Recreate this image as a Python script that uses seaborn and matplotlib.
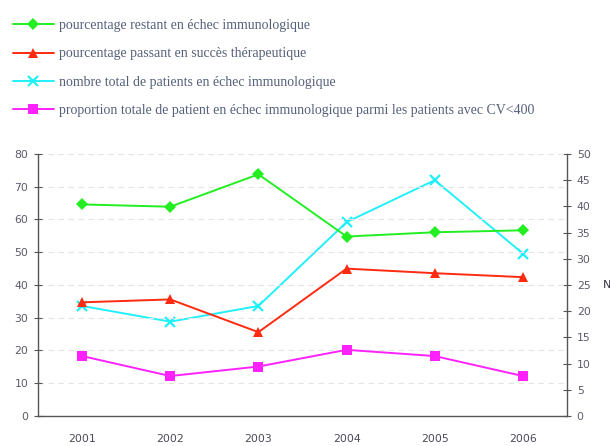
import matplotlib.pyplot as plt
import matplotlib.ticker as mticker
import seaborn as sns
import pandas as pd

years = ["2001", "2002", "2003", "2004", "2005", "2006"]
pct_restant = [64.6, 63.9, 73.8, 54.8, 56.1, 56.7]
pct_succes = [34.7, 35.6, 25.6, 45.0, 43.6, 42.4]
nb_patients = [21, 18, 21, 37, 45, 31]
prop_totale = [18.3, 12.2, 15.1, 20.2, 18.3, 12.2]

labels = [
    "pourcentage restant en échec immunologique",
    "pourcentage passant en succès thérapeutique",
    "nombre total de patients en échec immunologique",
    "proportion totale de patient en échec immunologique parmi les patients avec CV<400",
]

sns.set_style("white")
plt.rcParams["font.family"] = ["DejaVu Sans"]

fig = plt.figure(figsize=(6.1, 4.46), dpi=100)
ax = fig.add_axes([0.0623, 0.0673, 0.8672, 0.5874])
ax2 = ax.twinx()
# percentages drawn above the count series
ax.set_zorder(ax2.get_zorder() + 1)
ax.patch.set_visible(False)

df = pd.DataFrame({"annee": years, "restant": pct_restant, "succes": pct_succes,
                   "nb": nb_patients, "prop": prop_totale})
x = list(range(len(years)))

sns.lineplot(x=x, y=df["restant"], ax=ax, color="#22ee22", marker="D",
             markersize=6, markeredgewidth=0, linewidth=1.4, label=labels[0])
sns.lineplot(x=x, y=df["succes"], ax=ax, color="#ff2a10", marker="^",
             markersize=7, markeredgewidth=0, linewidth=1.4, label=labels[1])
sns.lineplot(x=x, y=df["nb"], ax=ax2, color="#22f0f8", marker="x",
             markersize=7, markeredgewidth=1.6, markeredgecolor="#22f0f8",
             linewidth=1.4, label=labels[2])
sns.lineplot(x=x, y=df["prop"], ax=ax, color="#ff22ff", marker="s",
             markersize=7, markeredgewidth=0, linewidth=1.4, label=labels[3])

ax.set_xlim(-0.5, len(years) - 0.5)
ax.set_ylim(0, 80)
ax2.set_ylim(0, 50)
ax.set_yticks(range(0, 81, 10))
ax2.set_yticks(range(0, 51, 5))
ax.set_xticks(x)
ax.set_xticklabels(years)
ax.xaxis.set_minor_locator(mticker.FixedLocator([i - 0.5 for i in range(len(years) + 1)]))
ax.tick_params(axis="x", which="major", length=0, pad=13, labelsize=7.8, labelcolor="#4a4a5a")
ax.tick_params(axis="x", which="minor", length=6, direction="inout", color="#555555")
ax.tick_params(axis="y", length=6, direction="inout", color="#555555", labelsize=7.8,
               labelcolor="#5a5a6a", pad=4)
ax2.tick_params(axis="y", length=6, direction="inout", color="#555555", labelsize=7.8,
                labelcolor="#5a5a6a", pad=4)

ax.grid(axis="y", linestyle=(0, (5, 4)), color="#e4e4e4", linewidth=0.8)
ax.set_axisbelow(True)
for a in (ax, ax2):
    a.spines["top"].set_visible(False)
    for s in ("left", "right", "bottom"):
        a.spines[s].set_color("#555555")
        a.spines[s].set_linewidth(1.0)
ax.spines["right"].set_visible(False)
ax2.spines["left"].set_visible(False)
ax2.spines["bottom"].set_visible(False)

ax.set_xlabel("")
ax.set_ylabel("")
ax2.set_ylabel("N", rotation=0, fontsize=8, color="#333344", labelpad=12, va="center")

h1, l1 = ax.get_legend_handles_labels()
h2, l2 = ax2.get_legend_handles_labels()
ax.get_legend().remove()
ax2.get_legend().remove()
handles = [h1[0], h1[1], h2[0], h1[2]]
leg = fig.legend(handles, labels, loc="upper left", bbox_to_anchor=(0.0, 0.985),
                 frameon=False, handlelength=3.0, handletextpad=0.35,
                 labelspacing=1.1, prop={"family": "Liberation Serif", "size": 10})
for t in leg.get_texts():
    t.set_color("#55607a")

fig.savefig("out.png", dpi=100)
